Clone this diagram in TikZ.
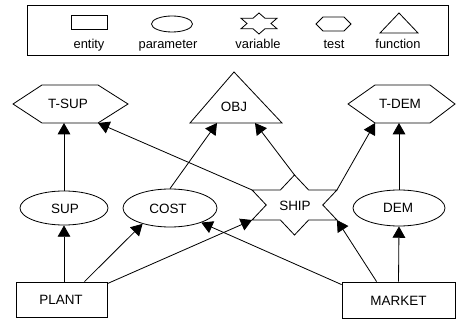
\documentclass[tikz,border=0pt]{standalone}
\usepackage{fontspec}
\setmainfont{Liberation Sans}
\usetikzlibrary{arrows.meta,shapes.geometric,calc}
\begin{document}
\begin{tikzpicture}[x=0.03cm,y=-0.03cm,
  every node/.style={font=\fontsize{11.5}{13}\selectfont, inner sep=0pt},
  lbl/.style={font=\fontsize{11}{13}\selectfont, anchor=base},
  shp/.style={draw, line width=0.7pt, line join=miter},
  entbox/.style={draw, line width=0.7pt, rectangle},
  parm/.style={draw, line width=0.7pt, ellipse},
  arr/.style={line width=0.7pt, -{Triangle[length=3.4mm,width=3.8mm]}}]
\useasboundingbox (0,0) rectangle (457,320);

% ---------------- legend ----------------
\draw[shp] (27,5) rectangle (448,55);
\draw[shp] (71,15) rectangle (107,29);
\draw[shp] (172,24) ellipse [x radius=0.615cm, y radius=0.24cm];
\draw[shp, shift={(259,23.5)}]
  (90:20.8 and 10.5) -- (60:12 and 6.06) -- (30:20.8 and 10.5) -- (0:12 and 6.06)
  -- (-30:20.8 and 10.5) -- (-60:12 and 6.06) -- (-90:20.8 and 10.5) -- (-120:12 and 6.06)
  -- (-150:20.8 and 10.5) -- (180:12 and 6.06) -- (150:20.8 and 10.5) -- (120:12 and 6.06) -- cycle;
\draw[shp] (316,24) -- (323,17) -- (344,17) -- (351,24) -- (344,31) -- (323,31) -- cycle;
\draw[shp] (399,13) -- (380,33) -- (418,33) -- cycle;
\node[lbl] (lent) at (89,49) {entity};
\node[lbl] (lpar) at (168,49) {parameter};
\node[lbl] (lvar) at (258,49) {variable};
\node[lbl] (ltst) at (334,49) {test};
\node[lbl] (lfun) at (398,49) {function};

% ---------------- main diagram ----------------
% entities
\node[entbox, minimum width=2.73cm, minimum height=1.05cm] (plant) at (61.5,299.5) {};
\node (plantt) at (61,300) {PLANT};
\node[entbox, minimum width=3.39cm, minimum height=1.08cm] (market) at (398.5,300) {};
\node (markett) at (398.5,301) {MARKET};
% parameters
\node[parm, minimum width=2.64cm, minimum height=1.02cm] (sup) at (64,208) {};
\node (supt) at (65,209) {SUP};
\node[parm, minimum width=2.82cm, minimum height=1.14cm] (cost) at (170,208) {};
\node (costt) at (168,209) {COST};
\node[parm, minimum width=2.76cm, minimum height=1.08cm] (dem) at (399,208) {};
\node (demt) at (398,208) {DEM};
% tests
\draw[shp] (13,104) -- (42,85) -- (98,85) -- (128,104) -- (98,123) -- (42,123) -- cycle;
\node (tsup) at (68,104) {T-SUP};
\coordinate (tsupB) at (64,123);
\coordinate (tsupBR) at (98,123);
\draw[shp] (348,104) -- (375,85) -- (430,85) -- (455,104) -- (430,123) -- (375,123) -- cycle;
\node (tdem) at (400,104) {T-DEM};
\coordinate (tdemB) at (399,123);
\coordinate (tdemBL) at (375,123);
% function
\draw[shp] (234,72) -- (190,123) -- (282,123) -- cycle;
\node (obj) at (234,107) {OBJ};
\coordinate (objL) at (217,123);
\coordinate (objR) at (255,123);
% variable
\draw[shp, shift={(294.5,205)}]
  (90:49 and 30) -- (60:28.3 and 17.3) -- (30:49 and 30) -- (0:28.3 and 17.3)
  -- (-30:49 and 30) -- (-60:28.3 and 17.3) -- (-90:49 and 30) -- (-120:28.3 and 17.3)
  -- (-150:49 and 30) -- (180:28.3 and 17.3) -- (150:49 and 30) -- (120:28.3 and 17.3) -- cycle;
\node (ship) at (295,206) {SHIP};
\coordinate (shipT) at (294.5,175);
\coordinate (shipUL) at (252.1,190);
\coordinate (shipUR) at (336.9,190);
\coordinate (shipLL) at (252.1,220);
\coordinate (shipLR) at (336.9,220);

% ---------------- connectors ----------------
\draw[arr] (sup.south |- plant.north) -- (sup.south);
\draw[arr] (sup.north) -- (tsupB);
\draw[arr] ($(plant.north)+(23,0)$) -- (cost.210);
\draw[arr] ($(plant.north east)+(0,2)$) -- (shipLL);
\draw[arr] ($(market.north west)+(0,3)$) -- (cost.335);
\draw[arr] ($(market.north west)+(35,0)$) -- (shipLR);
\draw[arr] (market.north) -- (dem.south);
\draw[arr] (dem.north) -- (tdemB);
\draw[arr] (cost.north) -- (objL);
\draw[arr] (shipT) -- (objR);
\draw[arr] (shipUL) -- (tsupBR);
\draw[arr] (shipUR) -- (tdemBL);
\end{tikzpicture}
\end{document}
